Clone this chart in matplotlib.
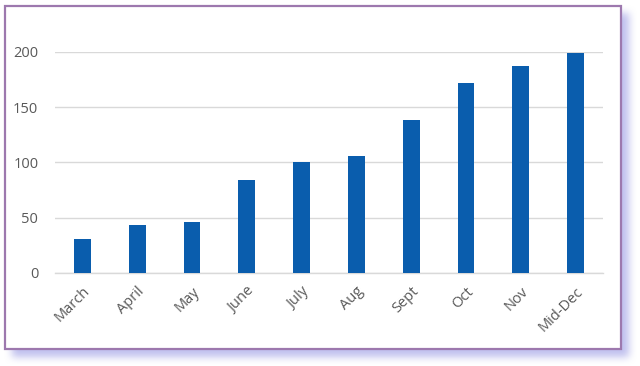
import numpy as np
import matplotlib
matplotlib.use("Agg")
import matplotlib.pyplot as plt
from matplotlib.patches import Rectangle

# data
months = ["March", "April", "May", "June", "July", "Aug", "Sept", "Oct", "Nov", "Mid-Dec"]
counts = [31, 43, 46, 84, 100, 106, 138, 172, 187, 199]

W, H = 640, 366
plt.rcParams['font.family'] = ['Open Sans', 'DejaVu Sans']

fig = plt.figure(figsize=(W / 100, H / 100), dpi=100)
fig.patch.set_facecolor("white")

# soft lavender drop shadow behind the frame
mask = np.zeros((H, W))
mask[13:357, 12:629] = 1.0
k = np.ones(9) / 9
for _ in range(2):
    mask = np.apply_along_axis(lambda r: np.convolve(r, k, mode="same"), 1, mask)
    mask = np.apply_along_axis(lambda c: np.convolve(c, k, mode="same"), 0, mask)
shadow = np.zeros((H, W, 4))
shadow[..., 0] = 0.74
shadow[..., 1] = 0.74
shadow[..., 2] = 0.93
shadow[..., 3] = mask * 0.95
fig.figimage(shadow, xo=0, yo=0, origin="upper", zorder=0)

# white frame with purple edge
fx0, fx1 = 4.5, 620.5
fy0, fy1 = 5.5, 348.5
fig.patches.append(Rectangle((fx0 / W, 1 - fy1 / H), (fx1 - fx0) / W, (fy1 - fy0) / H,
                             transform=fig.transFigure, facecolor="white",
                             edgecolor="#9D78AE", linewidth=1.6, zorder=1))

ax = fig.add_axes([55 / W, 1 - 273 / H, (603 - 55) / W, (273 - 51.7) / H])
ax.set_zorder(2)
ax.patch.set_visible(False)

x = np.arange(len(months))
ax.bar(x, counts, width=0.31, color="#0A5DAD", zorder=3)

ax.set_xlim(-0.5, len(months) - 0.5)
ax.set_ylim(0, 200)
ax.set_yticks([0, 50, 100, 150, 200])
ax.set_xticks(x)
ax.set_xticklabels(months, rotation=45, ha="right", va="top", rotation_mode="anchor")

ax.grid(axis="y", color="#D9D9D9", linewidth=1.0, zorder=0)
ax.set_axisbelow(True)
for s in ["top", "right", "left"]:
    ax.spines[s].set_visible(False)
ax.spines["bottom"].set_color("#D9D9D9")
ax.spines["bottom"].set_linewidth(1.0)
ax.tick_params(axis="both", length=0, labelsize=10.5, labelcolor="#595959")
ax.tick_params(axis="y", pad=12)
ax.tick_params(axis="x", pad=8)

fig.savefig("out.png", dpi=100)
